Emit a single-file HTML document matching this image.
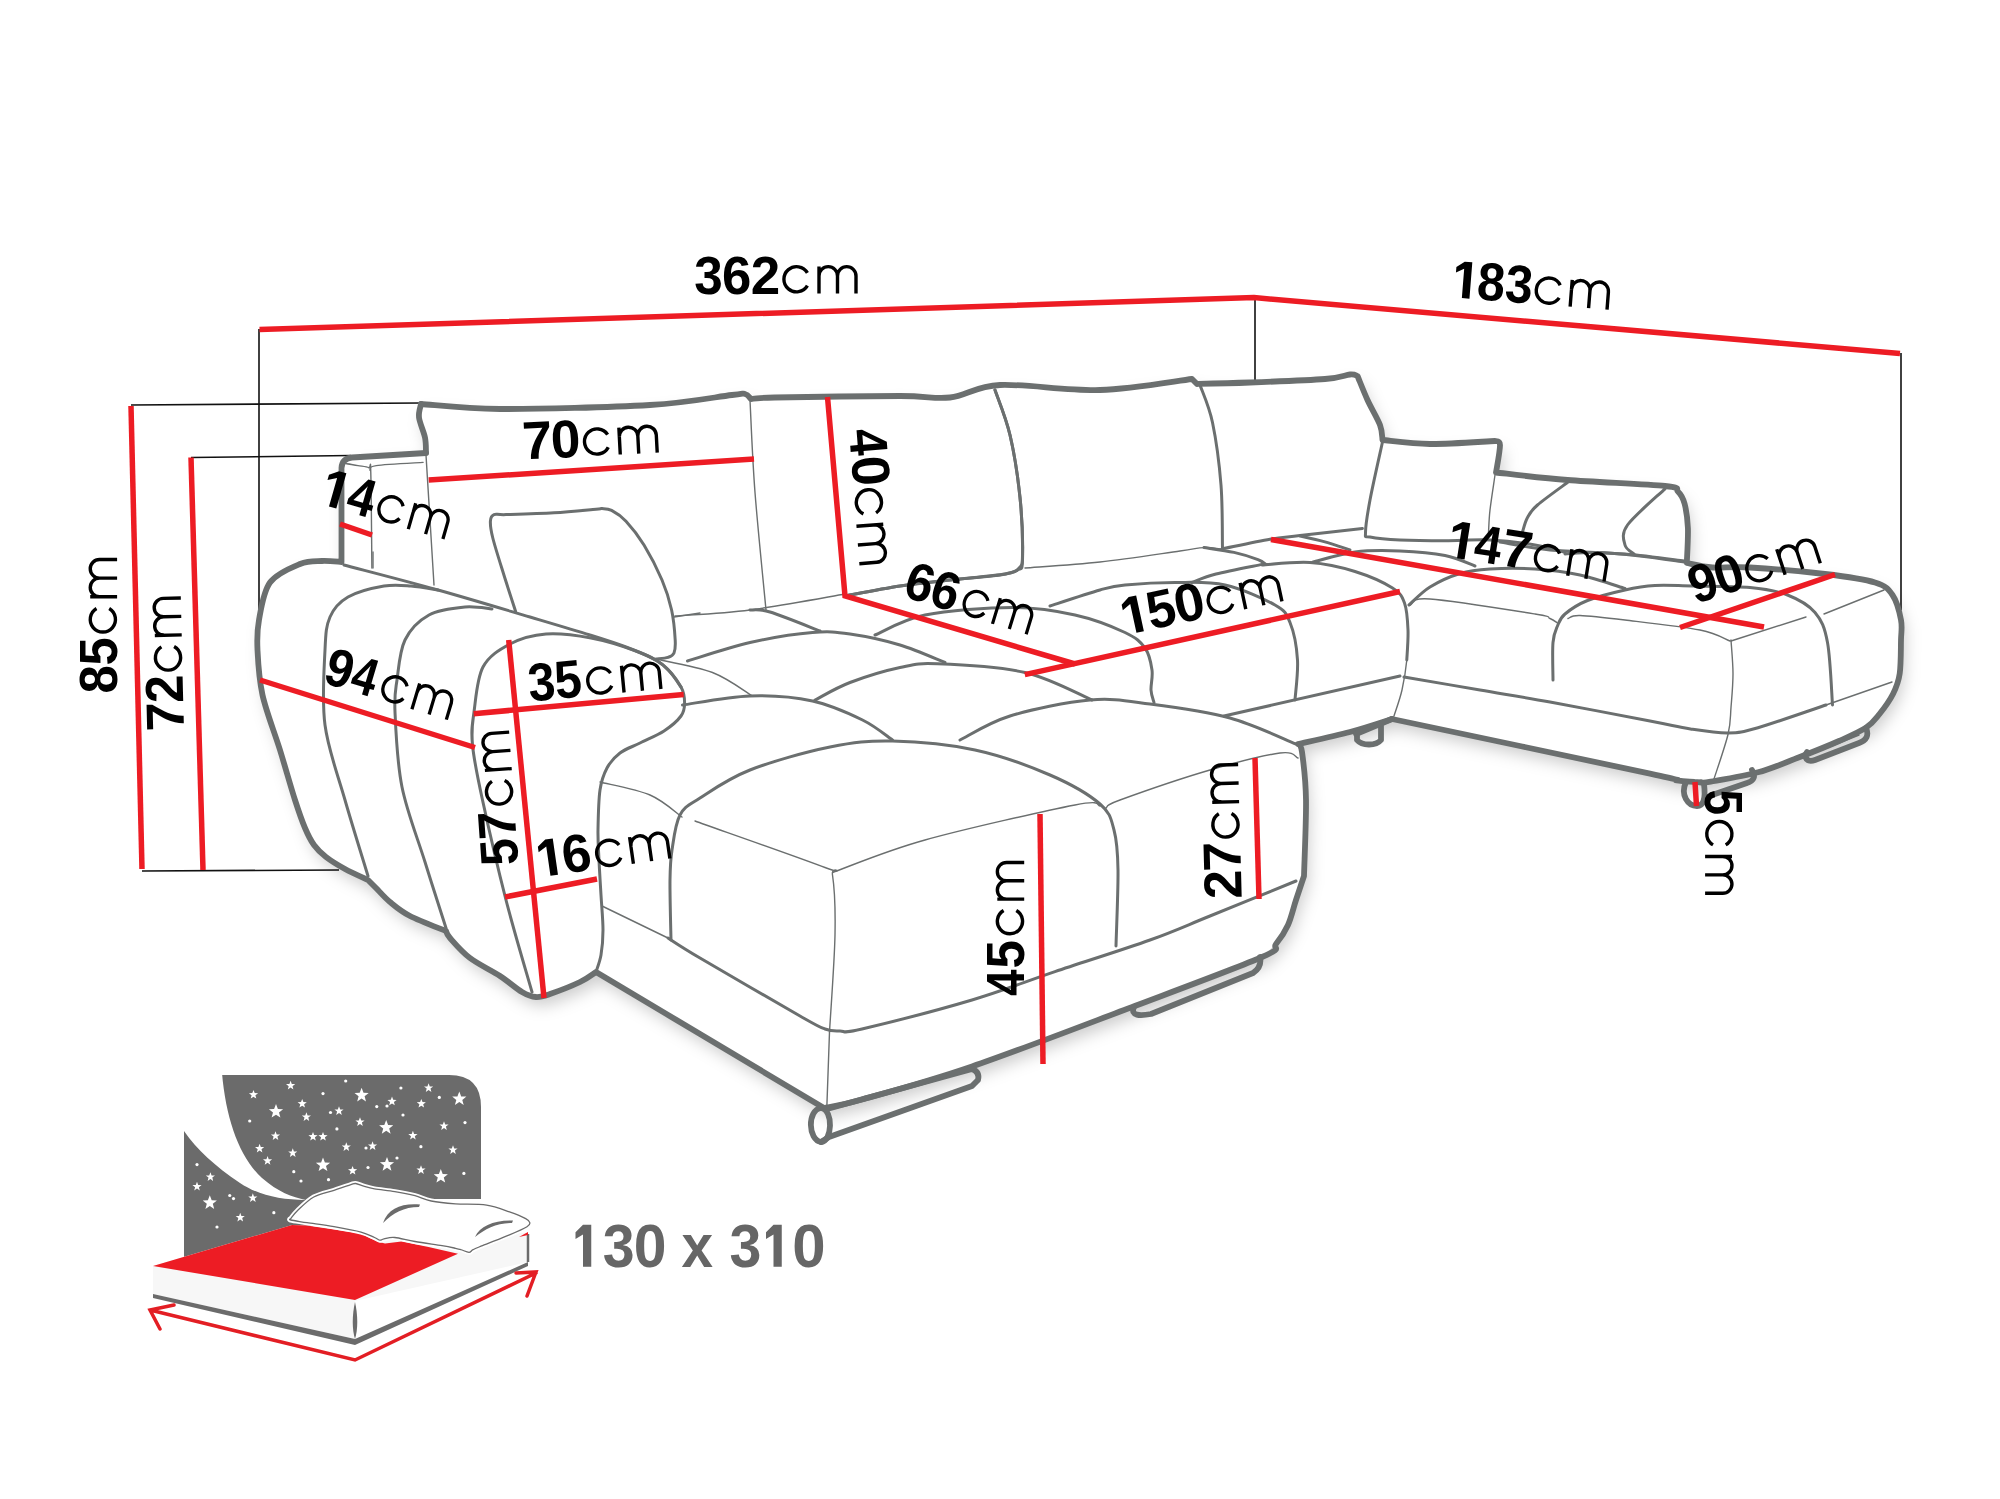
<!DOCTYPE html><html><head><meta charset="utf-8"><style>html,body{margin:0;padding:0;background:#fff;overflow:hidden}svg{display:block}</style></head><body><svg width="2000" height="1499" viewBox="0 0 2000 1499" font-family="Liberation Sans, sans-serif">
<rect width="2000" height="1499" fill="#fff"/>
<defs><path id="cm" fill="none" stroke="#000" stroke-width="3.4" d="M24.9,-20.6 A12.6,12.6 0 1 0 24.9,-7.9 M36.5,0 V-26.9 M36.5,-17.6 A9.25,9.25 0 0 1 55,-17.6 V0 M55,-17.6 A9.25,9.25 0 0 1 73.5,-17.6 V0"/></defs>
<defs><filter id="sh" x="-10%" y="-10%" width="120%" height="120%"><feGaussianBlur stdDeviation="8"/></filter></defs>
<path d="M421,404 L500,409 L650,405 L732,395 L745,394 L751,399 L775,397.5 L900,396 L950,397.5 L1000,385 L1100,390 L1192,379 L1197,384 L1250,382.5 L1325,379 L1350,374.5 L1357.5,376 L1367.5,400 L1380,425 L1382.5,440 L1430,444 L1495,441 L1500,445 L1496,472.5 L1567.5,480 L1665,486 L1678,491.7 L1684.6,503.8 L1687.9,528 L1686.8,563 L1712.5,567.5 L1750,567.5 L1825,574 L1875,582.5 L1892.5,595 L1901,620 L1901,640 L1899.7,673.7 L1893,694 L1879.5,714 L1866,727.7 L1839,741 L1798.5,757.5 L1758,772.3 L1710.7,781.7 L1694.5,781.75 L1677,780.4 L1650,773.6 L1392,719 L1350,732 L1298,744 L1302,752 L1306,800 L1304,876 L1296,900 L1288,925 L1276,944 L1262,957 L1134.7,1006 L972,1066.5 L862,1099.5 L824,1108 L700,1034 L596,972 L580,982 L550,994 L536,997 L522,992 L500,976 L470,958 L450,938 L446,931 L410,916 L390,902 L376,888 L368,880 L340,866 L320,852 L310,840 L280,750 L262.5,695 L257.5,650 L259,620 L270,582.5 L300,564 L322,562.5 L342,565 L341,467 L348,458 L426,452.5 L425,437.5 L419,417.5Z" fill="#000" fill-opacity="0.2" filter="url(#sh)" transform="translate(4,9)"/>
<path d="M421,404 L500,409 L650,405 L732,395 L745,394 L751,399 L775,397.5 L900,396 L950,397.5 L1000,385 L1100,390 L1192,379 L1197,384 L1250,382.5 L1325,379 L1350,374.5 L1357.5,376 L1367.5,400 L1380,425 L1382.5,440 L1430,444 L1495,441 L1500,445 L1496,472.5 L1567.5,480 L1665,486 L1678,491.7 L1684.6,503.8 L1687.9,528 L1686.8,563 L1712.5,567.5 L1750,567.5 L1825,574 L1875,582.5 L1892.5,595 L1901,620 L1901,640 L1899.7,673.7 L1893,694 L1879.5,714 L1866,727.7 L1839,741 L1798.5,757.5 L1758,772.3 L1710.7,781.7 L1694.5,781.75 L1677,780.4 L1650,773.6 L1392,719 L1350,732 L1298,744 L1302,752 L1306,800 L1304,876 L1296,900 L1288,925 L1276,944 L1262,957 L1134.7,1006 L972,1066.5 L862,1099.5 L824,1108 L700,1034 L596,972 L580,982 L550,994 L536,997 L522,992 L500,976 L470,958 L450,938 L446,931 L410,916 L390,902 L376,888 L368,880 L340,866 L320,852 L310,840 L280,750 L262.5,695 L257.5,650 L259,620 L270,582.5 L300,564 L322,562.5 L342,565 L341,467 L348,458 L426,452.5 L425,437.5 L419,417.5Z" fill="#fff"/>
<g fill="none" stroke="#111" stroke-width="1.6"><path d="M131,405 L420,403"/><path d="M191,457.5 L351,455.5"/><path d="M259,329 L259,617"/><path d="M142,871 L339,870"/><path d="M1255,297 L1255,380"/><path d="M1901,353 L1901,610"/></g>
<g fill="none" stroke="#6b6f6f" stroke-width="1.4" stroke-linecap="round" stroke-linejoin="round"><path d="M1819,751 L1859,735"/><path d="M1495.0,475.0C1494.2,480.8 1491.1,500.4 1490.0,510.0C1488.9,519.6 1488.8,528.8 1488.5,532.5"/><path d="M1025.0,568.0C1037.5,567.0 1074.2,564.8 1100.0,562.0C1125.8,559.2 1162.7,553.4 1180.0,551.0C1197.3,548.6 1197.0,547.9 1204.0,547.6C1211.0,547.3 1219.0,548.8 1222.0,549.0"/><path d="M1265.0,564.0L1313.0,562.0"/><path d="M1408.0,630.0C1407.8,635.0 1407.8,650.0 1406.8,660.0C1405.8,670.0 1404.1,680.7 1402.0,690.0C1399.9,699.3 1395.3,711.7 1394.0,716.0"/><path d="M1410.5,605.0C1413.8,604.0 1409.2,597.5 1430.0,599.0C1450.8,600.5 1515.0,610.8 1535.0,614.0C1555.0,617.2 1546.2,617.0 1550.0,618.5C1553.8,620.0 1556.2,622.2 1557.5,623.0"/><path d="M1568.0,618.5C1570.0,618.0 1570.5,615.2 1580.0,615.5C1589.5,615.8 1605.0,617.6 1625.0,620.0C1645.0,622.4 1682.5,626.5 1700.0,630.0C1717.5,633.5 1725.0,639.2 1730.0,641.0"/><path d="M1731.0,640.0C1731.3,645.6 1733.0,662.5 1733.0,673.7C1733.0,685.0 1731.8,697.4 1731.0,707.5C1730.2,717.6 1730.9,722.4 1728.0,734.5C1725.1,746.6 1715.9,772.8 1713.5,780.4"/><path d="M346.0,463.5C348.0,463.9 354.2,464.9 358.0,465.6C361.8,466.3 366.6,466.5 368.7,467.7C370.8,468.9 370.3,456.3 370.8,473.0C371.3,489.7 371.7,552.2 371.9,568.0"/><path d="M369.8,470.0C370.9,469.3 367.3,466.9 376.2,465.6C385.1,464.3 415.3,462.9 423.1,462.4"/><path d="M426.0,455.0L434.0,585.0"/><path d="M750.0,400.0C750.8,415.4 752.3,457.5 755.0,492.5C757.7,527.5 764.2,590.4 766.0,610.0"/><path d="M656.0,659.0C665.4,661.2 696.4,666.3 712.5,672.5C728.6,678.7 745.8,692.1 752.5,696.0"/><path d="M674.0,617.0L700.0,613.0"/><path d="M373.0,552.0L373.0,568.0"/><path d="M695.0,821.0C716.7,828.8 802.1,858.5 825.0,867.5C847.9,876.5 830.8,863.8 832.5,875.0C834.2,886.2 835.5,908.8 835.0,935.0C834.5,961.2 830.4,1015.8 829.5,1032.0"/><path d="M832.5,872.5C847.9,867.1 884.6,851.2 925.0,840.0C965.4,828.8 1045.8,810.7 1075.0,805.0C1104.2,799.3 1095.8,805.8 1100.0,806.0"/><path d="M1106.0,808.0C1108.3,806.7 1102.7,806.3 1120.0,800.0C1137.3,793.7 1183.3,777.8 1210.0,770.0C1236.7,762.2 1265.3,755.0 1280.0,753.0C1294.7,751.0 1295.0,757.2 1298.0,758.0"/><path d="M675.0,616.0C687.5,615.0 721.7,613.7 750.0,610.0C778.3,606.3 829.2,596.7 845.0,594.0"/><path d="M600.0,782.0C608.3,784.2 636.3,789.2 650.0,795.0C663.7,800.8 676.7,813.3 682.0,817.0"/><path d="M1731.0,641.0L1806.0,617.0"/><path d="M1824.0,614.0L1884.0,590.0"/><path d="M1826.0,705.0L1892.0,682.0"/><path d="M826.8,1108.0L829.5,1032.0"/><path d="M602.0,906.0L670.0,939.0"/></g>
<g fill="none" stroke="#6b6f6f" stroke-width="3" stroke-linecap="round" stroke-linejoin="round"><path d="M515.6,611.3C513.6,605.1 507.4,586.2 503.6,574.0C499.8,561.8 495.0,546.8 492.8,538.0C490.6,529.2 490.2,525.1 490.4,521.2C490.6,517.3 491.4,515.7 494.0,514.6C496.6,513.5 496.0,514.9 506.0,514.6C516.0,514.3 539.0,513.7 554.0,512.8C569.0,511.9 588.0,509.9 596.0,509.2C604.0,508.5 599.4,508.4 602.0,508.6C604.6,508.8 607.6,508.3 611.6,510.4C615.6,512.5 620.6,515.4 626.0,521.2C631.4,527.0 638.0,535.2 644.0,545.0C650.0,554.8 657.4,569.2 662.0,580.0C666.6,590.8 669.4,600.0 671.6,610.0C673.8,620.0 674.8,632.8 675.2,640.0C675.6,647.2 675.2,650.1 674.0,653.0C672.8,655.9 671.0,656.4 668.0,657.4C665.0,658.4 658.0,658.7 656.0,659.0"/><path d="M344.0,565.0C359.7,569.2 407.0,581.3 438.0,590.0C469.0,598.7 504.7,609.5 530.0,617.0C555.3,624.5 574.0,630.0 590.0,635.0C606.0,640.0 615.0,642.8 626.0,647.0C637.0,651.2 648.7,655.8 656.0,660.0C663.3,664.2 665.8,667.5 670.0,672.0C674.2,676.5 679.2,684.5 681.0,687.0"/><path d="M368.0,876.0C364.2,863.3 352.2,825.2 345.0,800.0C337.8,774.8 328.3,750.0 325.0,725.0C321.7,700.0 324.2,668.0 325.0,650.0C325.8,632.0 326.2,625.8 330.0,617.0C333.8,608.2 339.0,602.2 348.0,597.0C357.0,591.8 373.5,587.8 384.0,586.0C394.5,584.2 402.0,585.3 411.0,586.0C420.0,586.7 433.5,589.3 438.0,590.0"/><path d="M446.0,928.0C442.5,917.0 432.3,885.5 425.0,862.0C417.7,838.5 407.0,812.0 402.0,787.0C397.0,762.0 395.8,729.8 395.0,712.0C394.2,694.2 395.3,692.0 397.0,680.0C398.7,668.0 399.7,650.8 405.0,640.0C410.3,629.2 419.0,620.5 429.0,615.0C439.0,609.5 454.5,608.0 465.0,607.0C475.5,606.0 487.5,608.7 492.0,609.0"/><path d="M596.0,972.0C596.8,969.2 599.8,962.0 601.0,955.0C602.2,948.0 603.0,940.0 603.0,930.0C603.0,920.0 601.7,906.7 601.0,895.0C600.3,883.3 599.5,870.8 599.0,860.0C598.5,849.2 597.8,841.7 598.0,830.0C598.2,818.3 598.5,800.3 600.0,790.0C601.5,779.7 603.7,774.2 607.0,768.0C610.3,761.8 614.5,757.2 620.0,753.0C625.5,748.8 632.7,746.7 640.0,743.0C647.3,739.3 657.2,735.5 664.0,731.0C670.8,726.5 677.6,720.7 681.0,716.0C684.4,711.3 684.6,707.8 684.6,703.0C684.6,698.2 684.6,693.3 681.0,687.0C677.4,680.7 670.5,671.0 663.0,665.0C655.5,659.0 648.0,655.5 636.0,651.0C624.0,646.5 606.0,640.8 591.0,638.0C576.0,635.2 559.5,633.0 546.0,634.0C532.5,635.0 520.5,638.5 510.0,644.0C499.5,649.5 489.0,655.7 483.0,667.0C477.0,678.3 475.8,699.0 474.0,712.0C472.2,725.0 471.1,730.3 472.5,745.0C473.9,759.7 476.9,774.2 482.5,800.0C488.1,825.8 497.8,868.0 506.0,900.0C514.2,932.0 527.7,976.7 532.0,992.0"/><path d="M995.0,390.0C997.5,397.5 1005.8,417.1 1010.0,435.0C1014.2,452.9 1017.9,476.7 1020.0,497.5C1022.1,518.3 1022.9,547.9 1022.5,560.0C1022.1,572.1 1021.2,567.5 1017.5,570.0C1013.8,572.5 1011.2,573.3 1000.0,575.0C988.8,576.7 966.7,578.2 950.0,580.0C933.3,581.8 917.5,583.3 900.0,586.0C882.5,588.7 854.2,594.3 845.0,596.0"/><path d="M1200.0,385.0C1202.1,391.2 1209.0,405.8 1212.5,422.5C1216.0,439.2 1219.3,463.9 1221.0,485.0C1222.7,506.1 1222.2,538.3 1222.5,549.0"/><path d="M1382.5,442.0C1380.4,451.7 1372.8,484.9 1370.0,500.0C1367.2,515.1 1365.5,526.3 1365.5,532.5C1365.5,538.7 1364.2,535.8 1370.0,537.0C1375.8,538.2 1387.5,539.4 1400.0,540.0C1412.5,540.6 1430.0,540.8 1445.0,540.8C1460.0,540.8 1475.0,539.3 1490.0,540.0C1505.0,540.7 1522.5,542.9 1535.0,545.0C1547.5,547.1 1560.0,551.2 1565.0,552.5"/><path d="M1522.5,532.0C1523.3,529.6 1525.0,522.0 1527.5,517.5C1530.0,513.0 1530.8,510.8 1537.5,505.0C1544.2,499.2 1562.5,486.2 1567.5,482.5"/><path d="M1634.0,554.0C1632.5,552.5 1626.1,549.8 1625.0,545.0C1623.9,540.2 1620.8,534.4 1627.5,525.0C1634.2,515.6 1658.8,494.8 1665.0,488.8"/><path d="M1565.0,554.0C1570.0,553.8 1582.5,552.2 1595.0,552.5C1607.5,552.8 1625.2,554.4 1640.0,556.0C1654.8,557.6 1676.7,561.0 1684.0,562.0"/><path d="M1222.0,549.0C1230.0,547.4 1257.0,541.4 1270.0,539.2C1283.0,537.0 1284.6,537.4 1300.0,535.6C1315.4,533.8 1352.0,529.6 1362.4,528.4"/><path d="M1204.0,547.6C1209.0,548.4 1225.0,550.4 1234.0,552.4C1243.0,554.4 1252.7,557.6 1258.0,559.6C1263.3,561.6 1264.7,563.6 1266.0,564.4"/><path d="M1300.0,536.0C1304.0,536.9 1315.7,539.3 1324.0,541.6C1332.3,543.9 1345.7,548.6 1350.0,550.0"/><path d="M1313.0,562.0C1320.0,560.3 1340.5,553.8 1355.0,552.0C1369.5,550.2 1385.0,550.4 1400.0,551.0C1415.0,551.6 1432.5,553.0 1445.0,555.5C1457.5,558.0 1470.0,564.2 1475.0,566.0"/><path d="M1262.0,565.0C1270.0,564.6 1294.5,561.4 1310.0,562.5C1325.5,563.6 1341.2,567.2 1355.0,571.5C1368.8,575.8 1384.2,582.8 1392.5,588.0C1400.8,593.2 1401.9,596.0 1404.5,603.0C1407.1,610.0 1407.6,620.5 1408.0,630.0C1408.4,639.5 1407.0,655.0 1406.8,660.0"/><path d="M1409.0,605.0C1412.5,602.0 1421.5,592.2 1430.0,587.0C1438.5,581.8 1450.0,576.5 1460.0,573.5C1470.0,570.5 1477.5,569.8 1490.0,569.0C1502.5,568.2 1520.0,568.0 1535.0,569.0C1550.0,570.0 1565.0,571.8 1580.0,575.0C1595.0,578.2 1617.5,586.2 1625.0,588.5"/><path d="M1553.0,680.0C1553.0,673.8 1552.2,651.5 1553.0,642.5C1553.8,633.5 1555.5,630.8 1557.5,626.0C1559.5,621.2 1560.0,618.2 1565.0,614.0C1570.0,609.8 1577.5,604.5 1587.5,600.5C1597.5,596.5 1613.8,592.5 1625.0,590.0C1636.2,587.5 1643.8,586.2 1655.0,585.5C1666.2,584.8 1676.7,585.7 1692.5,586.0C1708.3,586.3 1734.2,586.0 1750.0,587.5C1765.8,589.0 1776.7,590.8 1787.5,595.0C1798.3,599.2 1808.3,604.6 1815.0,612.5C1821.7,620.4 1824.6,627.1 1827.5,642.5C1830.4,657.9 1831.7,694.6 1832.5,705.0"/><path d="M995.0,390.0C997.5,397.5 1005.8,417.1 1010.0,435.0C1014.2,452.9 1017.9,477.5 1020.0,497.5C1022.1,517.5 1022.7,543.2 1022.5,555.0C1022.3,566.8 1021.9,564.8 1019.0,568.0C1016.1,571.2 1016.5,572.0 1005.0,574.0C993.5,576.0 967.5,578.0 950.0,580.0C932.5,582.0 917.5,583.3 900.0,586.0C882.5,588.7 854.2,594.3 845.0,596.0"/><path d="M687.5,661.0C697.9,657.9 729.2,647.2 750.0,642.5C770.8,637.8 795.8,633.9 812.5,632.5C829.2,631.1 835.4,631.9 850.0,634.0C864.6,636.1 884.2,640.2 900.0,645.0C915.8,649.8 937.5,659.6 945.0,662.5"/><path d="M815.0,700.0C820.8,697.1 835.8,687.9 850.0,682.5C864.2,677.1 885.4,670.6 900.0,667.5C914.6,664.4 916.7,662.9 937.5,663.8C958.3,664.6 999.2,666.5 1025.0,672.5C1050.8,678.5 1080.8,695.4 1092.0,700.0"/><path d="M682.5,705.0C693.8,703.5 728.3,696.7 750.0,696.0C771.7,695.3 793.8,697.0 812.5,701.0C831.2,705.0 849.2,713.5 862.5,720.0C875.8,726.5 887.5,736.7 892.5,740.0"/><path d="M960.0,740.0C968.3,736.0 988.3,722.7 1010.0,716.0C1031.7,709.3 1066.7,702.0 1090.0,700.0C1113.3,698.0 1126.7,701.0 1150.0,704.0C1173.3,707.0 1205.7,711.3 1230.0,718.0C1254.3,724.7 1285.0,739.7 1296.0,744.0"/><path d="M671.0,940.0C670.8,930.0 669.8,895.0 670.0,880.0C670.2,865.0 670.3,860.8 672.0,850.0C673.7,839.2 675.3,823.7 680.0,815.0C684.7,806.3 688.3,805.5 700.0,798.0C711.7,790.5 728.3,778.5 750.0,770.0C771.7,761.5 806.2,751.8 830.0,747.0C853.8,742.2 868.3,740.5 892.5,741.0C916.7,741.5 948.8,744.3 975.0,750.0C1001.2,755.7 1029.2,766.0 1050.0,775.0C1070.8,784.0 1089.3,794.8 1100.0,804.0C1110.7,813.2 1111.0,819.0 1114.0,830.0C1117.0,841.0 1117.7,850.7 1118.0,870.0C1118.3,889.3 1116.3,933.3 1116.0,946.0"/><path d="M1050.0,606.0C1058.3,603.3 1087.5,593.5 1100.0,590.0C1112.5,586.5 1112.5,586.2 1125.0,585.0C1137.5,583.8 1158.3,582.5 1175.0,582.5C1191.7,582.5 1208.3,581.2 1225.0,585.0C1241.7,588.8 1264.2,598.8 1275.0,605.0C1285.8,611.2 1286.2,613.3 1290.0,622.5C1293.8,631.7 1296.7,647.1 1297.5,660.0C1298.3,672.9 1295.4,693.3 1295.0,700.0"/><path d="M1192.0,582.4C1196.0,581.0 1204.3,577.0 1216.0,574.0C1227.7,571.0 1254.3,566.0 1262.0,564.4"/><path d="M875.0,635.0C883.3,631.7 902.1,619.6 925.0,615.0C947.9,610.4 987.5,607.5 1012.5,607.5C1037.5,607.5 1056.2,610.8 1075.0,615.0C1093.8,619.2 1113.3,627.0 1125.0,632.5C1136.7,638.0 1140.5,641.8 1145.0,648.0C1149.5,654.2 1151.0,663.0 1152.0,670.0C1153.0,677.0 1150.7,684.6 1151.0,690.0C1151.3,695.4 1153.5,700.4 1154.0,702.5"/><path d="M1224.0,716.0L1400.0,676.0"/><path d="M668.0,938.0C673.3,941.3 678.0,945.0 700.0,958.0C722.0,971.0 779.2,1004.2 800.0,1016.0C820.8,1027.8 818.3,1026.5 825.0,1029.0C831.7,1031.5 833.8,1031.0 840.0,1031.0C846.2,1031.0 840.0,1034.2 862.0,1029.0C884.0,1023.8 939.8,1009.6 972.0,1000.0C1004.2,990.4 1025.3,981.6 1055.0,971.6C1084.7,961.6 1124.2,949.3 1150.0,940.0C1175.8,930.7 1185.7,925.8 1210.0,916.0C1234.3,906.2 1281.7,886.8 1296.0,881.0"/><path d="M1404.0,677.0C1416.7,679.2 1455.7,685.8 1480.0,690.0C1504.3,694.2 1521.7,696.8 1550.0,702.0C1578.3,707.2 1626.6,716.5 1650.0,721.0C1673.4,725.5 1677.5,727.0 1690.5,729.0C1703.5,731.0 1717.0,733.2 1728.3,733.0C1739.5,732.8 1741.7,732.4 1758.0,727.7C1774.3,723.0 1814.7,708.8 1826.0,705.0"/><path d="M1500.0,542.0C1508.3,543.3 1529.2,548.0 1550.0,550.0C1570.8,552.0 1602.7,552.2 1625.0,554.0C1647.3,555.8 1674.2,559.8 1684.0,561.0"/><path d="M750.0,610.0C753.3,610.3 758.3,608.5 770.0,612.0C781.7,615.5 811.7,627.8 820.0,631.0"/></g>
<g fill="none" stroke="#6b6f6f" stroke-width="5.8" stroke-linecap="round" stroke-linejoin="round"><path d="M426.0,452.5C425.8,450.0 426.2,443.3 425.0,437.5C423.8,431.7 419.7,423.1 419.0,417.5C418.3,411.9 420.7,406.2 421.0,404.0"/><path d="M421.0,404.0C434.2,404.8 461.8,408.8 500.0,409.0C538.2,409.2 611.3,407.3 650.0,405.0C688.7,402.7 716.2,396.8 732.0,395.0C747.8,393.2 741.8,393.3 745.0,394.0C748.2,394.7 750.0,398.2 751.0,399.0C755.0,398.8 750.2,398.0 775.0,397.5C799.8,397.0 870.8,396.0 900.0,396.0C929.2,396.0 933.3,399.3 950.0,397.5C966.7,395.7 975.0,386.2 1000.0,385.0C1025.0,383.8 1068.0,391.0 1100.0,390.0C1132.0,389.0 1176.7,380.8 1192.0,379.0L1197.0,384.0C1205.8,383.8 1228.7,383.3 1250.0,382.5C1271.3,381.7 1308.3,380.3 1325.0,379.0C1341.7,377.7 1344.6,375.0 1350.0,374.5C1355.4,374.0 1356.2,375.8 1357.5,376.0C1359.2,380.0 1363.8,391.8 1367.5,400.0C1371.2,408.2 1377.5,418.3 1380.0,425.0C1382.5,431.7 1382.1,437.5 1382.5,440.0C1390.4,440.7 1411.2,443.8 1430.0,444.0C1448.8,444.2 1484.2,441.5 1495.0,441.0C1495.8,441.7 1499.8,439.8 1500.0,445.0C1500.2,450.2 1496.7,467.9 1496.0,472.5C1507.9,473.8 1539.3,477.8 1567.5,480.0C1595.7,482.2 1646.6,484.1 1665.0,486.0C1683.4,487.9 1674.7,488.7 1678.0,491.7C1681.3,494.7 1682.9,497.8 1684.6,503.8C1686.2,509.9 1687.5,518.1 1687.9,528.0C1688.3,537.9 1687.0,557.2 1686.8,563.0C1691.1,563.8 1702.0,566.8 1712.5,567.5C1723.0,568.2 1731.2,566.4 1750.0,567.5C1768.8,568.6 1804.2,571.5 1825.0,574.0C1845.8,576.5 1863.8,579.0 1875.0,582.5C1886.2,586.0 1888.2,588.8 1892.5,595.0C1896.8,601.2 1899.6,612.5 1901.0,620.0C1902.4,627.5 1901.2,631.0 1901.0,640.0C1900.8,649.0 1901.0,664.7 1899.7,673.7C1898.4,682.7 1896.4,687.3 1893.0,694.0C1889.6,700.7 1884.0,708.4 1879.5,714.0C1875.0,719.6 1872.8,723.2 1866.0,727.7C1859.2,732.2 1850.2,736.0 1839.0,741.0C1827.8,746.0 1812.0,752.3 1798.5,757.5C1785.0,762.7 1772.6,768.3 1758.0,772.3C1743.4,776.3 1720.2,780.0 1710.7,781.7C1701.2,783.4 1702.6,782.3 1701.0,782.4"/><path d="M426,453 L352,457.5 Q342,458.5 341.5,468 L341.5,562 M341.5,562.0C338.2,561.8 328.9,560.7 322.0,561.0C315.1,561.3 308.7,560.4 300.0,564.0C291.3,567.6 276.8,573.2 270.0,582.5C263.2,591.8 261.1,608.8 259.0,620.0C256.9,631.2 256.9,637.5 257.5,650.0C258.1,662.5 258.8,678.3 262.5,695.0C266.2,711.7 274.6,732.5 280.0,750.0C285.4,767.5 290.8,787.0 295.0,800.0C299.2,813.0 301.8,820.5 305.0,828.0C308.2,835.5 310.5,840.2 314.0,845.0C317.5,849.8 320.8,853.0 326.0,857.0C331.2,861.0 338.0,865.2 345.0,869.0C352.0,872.8 364.2,878.2 368.0,880.0C369.3,881.3 372.3,884.3 376.0,888.0C379.7,891.7 384.3,897.3 390.0,902.0C395.7,906.7 400.7,911.2 410.0,916.0C419.3,920.8 440.0,928.5 446.0,931.0C446.7,932.2 446.0,933.5 450.0,938.0C454.0,942.5 461.7,951.7 470.0,958.0C478.3,964.3 491.3,970.3 500.0,976.0C508.7,981.7 516.0,988.5 522.0,992.0C528.0,995.5 531.3,996.7 536.0,997.0C540.7,997.3 542.7,996.5 550.0,994.0C557.3,991.5 572.3,985.7 580.0,982.0C587.7,978.3 593.3,973.7 596.0,972.0C613.3,982.3 662.0,1011.3 700.0,1034.0C738.0,1056.7 803.3,1095.7 824.0,1108.0"/><path d="M824.0,1108.0C830.3,1106.6 837.3,1106.4 862.0,1099.5C886.7,1092.6 926.5,1082.1 972.0,1066.5C1017.5,1050.9 1086.4,1024.2 1134.7,1006.0C1183.0,987.8 1238.5,967.3 1262.0,957.0C1285.5,946.7 1271.7,949.3 1276.0,944.0C1280.3,938.7 1284.7,932.3 1288.0,925.0C1291.3,917.7 1293.3,908.2 1296.0,900.0C1298.7,891.8 1302.7,880.0 1304.0,876.0C1304.3,863.3 1306.3,820.7 1306.0,800.0C1305.7,779.3 1303.3,761.3 1302.0,752.0C1300.7,742.7 1298.7,745.3 1298.0,744.0C1306.7,742.0 1334.3,736.2 1350.0,732.0C1365.7,727.8 1385.0,721.2 1392.0,719.0"/><path d="M1392.0,719.0C1435.0,728.1 1602.5,763.4 1650.0,773.6C1697.5,783.8 1669.6,779.0 1677.0,780.4C1684.4,781.8 1690.5,781.4 1694.5,781.8C1698.5,782.1 1699.9,782.3 1701.0,782.4"/><path d="M827,1109 L972,1069 Q980,1072 978,1080 L972,1086 L829,1137 L821,1142"/><path d="M821,1108 C807,1110 808,1140 821,1142 C832,1142 834,1110 821,1108 Z"/><path d="M1134,1007 C1130,1016 1140,1016 1151,1014 L1253,973 C1261,968 1261,962 1260,957"/><path d="M1686,782 C1680,795 1688,806 1697,806 C1703,806 1706,800 1704,784"/><path d="M1752,770 C1756,776 1754,781 1747,783 L1712,795"/><path d="M1866,728 C1869,735 1867,740 1859,743 L1815,760 C1807,763 1803,757 1807,752"/><path d="M1357,733 L1357,740 C1362,746 1376,746 1381,740 L1381,726"/><path d="M1356,734 L1392,719"/></g>
<g fill="none" stroke="#ed1c24" stroke-width="5.5" stroke-linecap="butt" stroke-linejoin="miter"><path d="M259.5,329.5 L1254,297.6 L1900,353.5"/><path d="M131,406 L142,869"/><path d="M191,457.5 L203,870"/><path d="M340,524 L372,535"/><path d="M428.7,480 L754,459"/><path d="M827.5,397 L845,596 L1075,664"/><path d="M1024.8,674.6 L1400,591.5"/><path d="M1271,539.5 L1764,627"/><path d="M1680,627.5 L1835,574.5"/><path d="M260,680 L475,747.5"/><path d="M473.7,713.7 L683.7,694.5"/><path d="M508.7,640 L544,998"/><path d="M505,897 L597,879"/><path d="M1040,814 L1043,1064"/><path d="M1255,758 L1259,899"/><path d="M1695,782 L1696.5,806"/></g>

<g>
 <path fill="#6b6b6b" d="M222,1075 L449,1075 Q481,1075 481,1107 L481,1199 L340,1199 L300,1235 L184,1262 L184,1131 Z"/>
 <path fill="#fff" d="M222,1073 C226,1120 240,1158 262,1178 C278,1192 292,1197 306,1200 C280,1200 258,1195 240,1183 C215,1166 197,1150 184,1131 L184,1073 Z"/>
 <path fill="#fff" d="M180,1073 L222,1073 L222,1075 L184,1131 Z"/>
 <g fill="#fff">
  <path d="M361.6,1087.8 L363.5,1092.8 L368.7,1093.0 L364.6,1096.3 L366.0,1101.4 L361.6,1098.5 L357.2,1101.4 L358.6,1096.3 L354.5,1093.0 L359.7,1092.8ZM459.3,1091.4 L461.2,1096.4 L466.4,1096.6 L462.3,1099.9 L463.7,1105.0 L459.3,1102.1 L454.9,1105.0 L456.3,1099.9 L452.2,1096.6 L457.4,1096.4ZM276.0,1104.0 L277.9,1109.0 L283.1,1109.2 L279.0,1112.5 L280.4,1117.6 L276.0,1114.7 L271.6,1117.6 L273.0,1112.5 L268.9,1109.2 L274.1,1109.0ZM386.2,1120.1 L388.1,1125.1 L393.3,1125.3 L389.2,1128.6 L390.6,1133.7 L386.2,1130.8 L381.8,1133.7 L383.2,1128.6 L379.1,1125.3 L384.3,1125.1ZM323.0,1157.5 L324.9,1162.5 L330.1,1162.7 L326.0,1166.0 L327.4,1171.1 L323.0,1168.2 L318.6,1171.1 L320.0,1166.0 L315.9,1162.7 L321.1,1162.5ZM387.0,1157.1 L388.9,1162.1 L394.1,1162.3 L390.0,1165.6 L391.4,1170.7 L387.0,1167.8 L382.6,1170.7 L384.0,1165.6 L379.9,1162.3 L385.1,1162.1ZM440.8,1169.0 L442.7,1174.0 L447.9,1174.2 L443.8,1177.5 L445.2,1182.6 L440.8,1179.7 L436.4,1182.6 L437.8,1177.5 L433.7,1174.2 L438.9,1174.0ZM209.8,1195.3 L211.7,1200.3 L216.9,1200.5 L212.8,1203.8 L214.2,1208.9 L209.8,1206.0 L205.4,1208.9 L206.8,1203.8 L202.7,1200.5 L207.9,1200.3ZM290.6,1080.8 L291.8,1084.0 L295.2,1084.1 L292.5,1086.2 L293.4,1089.5 L290.6,1087.6 L287.8,1089.5 L288.7,1086.2 L286.0,1084.1 L289.4,1084.0ZM253.5,1089.9 L254.7,1093.1 L258.1,1093.2 L255.4,1095.3 L256.3,1098.6 L253.5,1096.7 L250.7,1098.6 L251.6,1095.3 L248.9,1093.2 L252.3,1093.1ZM428.6,1083.2 L429.8,1086.4 L433.2,1086.5 L430.5,1088.6 L431.4,1091.9 L428.6,1090.0 L425.8,1091.9 L426.7,1088.6 L424.0,1086.5 L427.4,1086.4ZM302.2,1098.9 L303.4,1102.1 L306.8,1102.2 L304.1,1104.3 L305.0,1107.6 L302.2,1105.7 L299.4,1107.6 L300.3,1104.3 L297.6,1102.2 L301.0,1102.1ZM392.0,1096.6 L393.2,1099.8 L396.6,1099.9 L393.9,1102.0 L394.8,1105.3 L392.0,1103.4 L389.2,1105.3 L390.1,1102.0 L387.4,1099.9 L390.8,1099.8ZM421.3,1098.9 L422.5,1102.1 L425.9,1102.2 L423.2,1104.3 L424.1,1107.6 L421.3,1105.7 L418.5,1107.6 L419.4,1104.3 L416.7,1102.2 L420.1,1102.1ZM339.0,1106.2 L340.2,1109.4 L343.6,1109.5 L340.9,1111.6 L341.8,1114.9 L339.0,1113.0 L336.2,1114.9 L337.1,1111.6 L334.4,1109.5 L337.8,1109.4ZM306.4,1112.2 L307.6,1115.4 L311.0,1115.5 L308.3,1117.6 L309.2,1120.9 L306.4,1119.0 L303.6,1120.9 L304.5,1117.6 L301.8,1115.5 L305.2,1115.4ZM360.0,1117.2 L361.2,1120.4 L364.6,1120.5 L361.9,1122.6 L362.8,1125.9 L360.0,1124.0 L357.2,1125.9 L358.1,1122.6 L355.4,1120.5 L358.8,1120.4ZM444.0,1121.2 L445.2,1124.4 L448.6,1124.5 L445.9,1126.6 L446.8,1129.9 L444.0,1128.0 L441.2,1129.9 L442.1,1126.6 L439.4,1124.5 L442.8,1124.4ZM275.5,1131.2 L276.7,1134.4 L280.1,1134.5 L277.4,1136.6 L278.3,1139.9 L275.5,1138.0 L272.7,1139.9 L273.6,1136.6 L270.9,1134.5 L274.3,1134.4ZM313.0,1131.9 L314.2,1135.1 L317.6,1135.2 L314.9,1137.3 L315.8,1140.6 L313.0,1138.7 L310.2,1140.6 L311.1,1137.3 L308.4,1135.2 L311.8,1135.1ZM323.0,1131.9 L324.2,1135.1 L327.6,1135.2 L324.9,1137.3 L325.8,1140.6 L323.0,1138.7 L320.2,1140.6 L321.1,1137.3 L318.4,1135.2 L321.8,1135.1ZM412.9,1130.8 L414.1,1134.0 L417.5,1134.1 L414.8,1136.2 L415.7,1139.5 L412.9,1137.6 L410.1,1139.5 L411.0,1136.2 L408.3,1134.1 L411.7,1134.0ZM259.6,1143.8 L260.8,1147.0 L264.2,1147.1 L261.5,1149.2 L262.4,1152.5 L259.6,1150.6 L256.8,1152.5 L257.7,1149.2 L255.0,1147.1 L258.4,1147.0ZM292.8,1148.2 L293.9,1151.4 L297.3,1151.5 L294.7,1153.6 L295.6,1156.9 L292.8,1155.0 L289.9,1156.9 L290.8,1153.6 L288.2,1151.5 L291.6,1151.4ZM346.3,1142.2 L347.5,1145.4 L350.9,1145.5 L348.2,1147.6 L349.1,1150.9 L346.3,1149.0 L343.5,1150.9 L344.4,1147.6 L341.7,1145.5 L345.1,1145.4ZM372.6,1141.2 L373.7,1144.4 L377.1,1144.5 L374.5,1146.6 L375.4,1149.9 L372.6,1148.0 L369.7,1149.9 L370.6,1146.6 L368.0,1144.5 L371.4,1144.4ZM453.0,1145.2 L454.2,1148.4 L457.6,1148.5 L454.9,1150.6 L455.8,1153.9 L453.0,1152.0 L450.2,1153.9 L451.1,1150.6 L448.4,1148.5 L451.8,1148.4ZM267.6,1156.0 L268.7,1159.2 L272.1,1159.3 L269.5,1161.4 L270.4,1164.7 L267.6,1162.8 L264.7,1164.7 L265.6,1161.4 L263.0,1159.3 L266.4,1159.2ZM352.6,1165.9 L353.8,1169.1 L357.2,1169.2 L354.5,1171.3 L355.4,1174.6 L352.6,1172.7 L349.8,1174.6 L350.7,1171.3 L348.0,1169.2 L351.4,1169.1ZM421.0,1165.2 L422.2,1168.4 L425.6,1168.5 L422.9,1170.6 L423.8,1173.9 L421.0,1172.0 L418.2,1173.9 L419.1,1170.6 L416.4,1168.5 L419.8,1168.4ZM210.4,1172.2 L211.6,1175.4 L215.0,1175.5 L212.3,1177.6 L213.2,1180.9 L210.4,1179.0 L207.6,1180.9 L208.5,1177.6 L205.8,1175.5 L209.2,1175.4ZM197.0,1181.8 L198.2,1185.0 L201.6,1185.1 L198.9,1187.2 L199.8,1190.5 L197.0,1188.6 L194.2,1190.5 L195.1,1187.2 L192.4,1185.1 L195.8,1185.0ZM252.8,1193.2 L254.0,1196.4 L257.4,1196.5 L254.8,1198.6 L255.7,1201.9 L252.8,1200.0 L250.0,1201.9 L250.9,1198.6 L248.3,1196.5 L251.7,1196.4ZM240.2,1212.7 L241.4,1215.9 L244.8,1216.0 L242.2,1218.1 L243.1,1221.4 L240.2,1219.5 L237.4,1221.4 L238.3,1218.1 L235.7,1216.0 L239.1,1215.9Z"/>
  <circle cx="345.7" cy="1081" r="1.6"/><circle cx="323" cy="1093.6" r="1.6"/><circle cx="400.9" cy="1088" r="1.6"/><circle cx="439.3" cy="1097.4" r="1.6"/><circle cx="376.75" cy="1106.6" r="1.6"/><circle cx="387" cy="1106" r="1.6"/><circle cx="330.5" cy="1112.5" r="1.6"/><circle cx="403" cy="1115" r="1.6"/><circle cx="249.7" cy="1121" r="1.6"/><circle cx="465" cy="1122.6" r="1.6"/><circle cx="336.9" cy="1128.9" r="1.6"/><circle cx="366" cy="1148" r="1.6"/><circle cx="420.9" cy="1146.7" r="1.6"/><circle cx="397" cy="1158" r="1.6"/><circle cx="293.8" cy="1171.7" r="1.6"/><circle cx="368" cy="1167.5" r="1.6"/><circle cx="463.9" cy="1173.4" r="1.6"/><circle cx="301" cy="1181" r="1.6"/><circle cx="328.5" cy="1179.7" r="1.6"/><circle cx="197" cy="1164.6" r="1.6"/><circle cx="229.75" cy="1195.5" r="1.6"/><circle cx="233.5" cy="1198.6" r="1.6"/><circle cx="273.85" cy="1212.7" r="1.6"/><circle cx="217" cy="1227" r="1.6"/>
 </g>
 <!-- mattress -->
 <path fill="#f7f7f7" d="M153,1266 L292,1225 L528,1233 L528,1262 L355,1301 L355,1339 L153,1294 Z"/>
 <path fill="#ed1c24" d="M153,1266 L292,1225 L307,1225.5 L361,1233.5 L377,1241.5 L385,1243.6 L401.5,1241.5 L428.5,1247 L458,1253.7 L355,1300 Z"/>
 <path fill="#6b6b6b" d="M153,1294 L355,1339 L528,1262 L528,1266 L355,1345 L153,1298 Z"/>
 <path fill="#6b6b6b" d="M355,1302 C352,1315 352,1330 355,1339 C358,1330 358,1315 355,1302 Z"/>
 <path fill="none" stroke="#6b6b6b" stroke-width="2.5" d="M528,1234 L528,1262"/>
 <path fill="#ed1c24" d="M519,1237 L528,1232 L528,1235 Z"/>
 <!-- pillows -->
 <path fill="#fff" stroke="#fff" stroke-width="5" stroke-linejoin="round" d="M290.8,1218.6C291.9,1217.2 293.8,1214.1 297.6,1210.5C301.4,1206.9 307.7,1200.4 313.8,1197.0C319.9,1193.6 327.9,1192.3 334.0,1190.3C340.1,1188.3 346.6,1186.0 350.2,1184.9C353.8,1183.8 353.4,1183.3 355.6,1183.5C357.9,1183.7 360.6,1185.3 363.7,1186.2C366.8,1187.1 369.3,1188.0 374.5,1188.9C379.7,1189.8 388.1,1190.5 394.8,1191.6C401.6,1192.7 408.9,1194.1 415.0,1195.7C421.1,1197.3 424.4,1199.7 431.2,1201.0C437.9,1202.3 446.3,1203.1 455.5,1203.8C464.7,1204.4 477.6,1203.7 486.6,1205.1C495.6,1206.5 503.0,1209.7 509.5,1211.9C516.0,1214.2 522.3,1216.8 525.7,1218.6C529.1,1220.4 529.5,1221.3 529.8,1222.7C530.0,1224.0 530.4,1224.7 527.0,1226.7C523.6,1228.7 516.9,1231.7 509.5,1234.8C502.1,1237.9 488.6,1243.1 482.5,1245.6C476.4,1248.1 475.2,1248.5 473.0,1249.7C470.8,1250.8 471.0,1252.3 469.0,1252.3C467.0,1252.3 463.1,1250.3 460.9,1249.7C458.6,1249.0 458.6,1249.0 455.5,1248.3C452.4,1247.6 448.8,1246.7 442.0,1245.6C435.2,1244.5 422.9,1242.9 415.0,1241.5C407.1,1240.2 399.9,1238.0 394.8,1237.5C389.6,1237.0 386.5,1238.4 384.0,1238.8C381.5,1239.3 381.6,1240.4 380.0,1240.2C378.4,1240.0 377.7,1238.8 374.5,1237.5C371.3,1236.2 367.8,1233.9 361.0,1232.1C354.2,1230.3 343.0,1228.3 334.0,1226.7C325.0,1225.1 314.2,1223.8 307.0,1222.7C299.8,1221.5 293.5,1220.7 290.8,1220.0C288.1,1219.3 290.8,1218.8 290.8,1218.6Z"/>
 <path fill="#fff" stroke="#6b6b6b" stroke-width="1.3" d="M290.8,1218.6C291.9,1217.2 293.8,1214.1 297.6,1210.5C301.4,1206.9 307.7,1200.4 313.8,1197.0C319.9,1193.6 327.9,1192.3 334.0,1190.3C340.1,1188.3 346.6,1186.0 350.2,1184.9C353.8,1183.8 353.4,1183.3 355.6,1183.5C357.9,1183.7 360.6,1185.3 363.7,1186.2C366.8,1187.1 369.3,1188.0 374.5,1188.9C379.7,1189.8 388.1,1190.5 394.8,1191.6C401.6,1192.7 408.9,1194.1 415.0,1195.7C421.1,1197.3 424.4,1199.7 431.2,1201.0C437.9,1202.3 446.3,1203.1 455.5,1203.8C464.7,1204.4 477.6,1203.7 486.6,1205.1C495.6,1206.5 503.0,1209.7 509.5,1211.9C516.0,1214.2 522.3,1216.8 525.7,1218.6C529.1,1220.4 529.5,1221.3 529.8,1222.7C530.0,1224.0 530.4,1224.7 527.0,1226.7C523.6,1228.7 516.9,1231.7 509.5,1234.8C502.1,1237.9 488.6,1243.1 482.5,1245.6C476.4,1248.1 475.2,1248.5 473.0,1249.7C470.8,1250.8 471.0,1252.3 469.0,1252.3C467.0,1252.3 463.1,1250.3 460.9,1249.7C458.6,1249.0 458.6,1249.0 455.5,1248.3C452.4,1247.6 448.8,1246.7 442.0,1245.6C435.2,1244.5 422.9,1242.9 415.0,1241.5C407.1,1240.2 399.9,1238.0 394.8,1237.5C389.6,1237.0 386.5,1238.4 384.0,1238.8C381.5,1239.3 381.6,1240.4 380.0,1240.2C378.4,1240.0 377.7,1238.8 374.5,1237.5C371.3,1236.2 367.8,1233.9 361.0,1232.1C354.2,1230.3 343.0,1228.3 334.0,1226.7C325.0,1225.1 314.2,1223.8 307.0,1222.7C299.8,1221.5 293.5,1220.7 290.8,1220.0C288.1,1219.3 290.8,1218.8 290.8,1218.6Z"/>
 <path fill="#6b6b6b" d="M383,1223 C388,1208 402,1203 420,1204.5 L419,1207 C404,1207 393,1213 383,1223 Z"/>
 <path fill="#6b6b6b" d="M475,1237 C480,1226 494,1220 513,1220.5 L512,1223 C497,1223 485,1229 475,1237 Z"/>
 <!-- arrow -->
 <path fill="none" stroke="#e31e24" stroke-width="3.5" stroke-linecap="round" d="M150,1310 L355,1360 L536,1273 M174,1305 L150,1310 L160,1329 M516,1273 L536,1272 L527,1296"/>
</g>
<path fill="#666666" d="M575.5,1232.2 L583.0,1224.7 L591.25,1224.7 L591.25,1266.7 L583.0,1266.7 L583.0,1234.5 L575.5,1239 Z"/><text x="602.68" y="1266.7" font-weight="bold" font-size="61" textLength="31.89" lengthAdjust="spacingAndGlyphs" fill="#666666">3</text><text x="633.67" y="1266.7" font-weight="bold" font-size="61" textLength="32.74" lengthAdjust="spacingAndGlyphs" fill="#666666">0</text><text x="681.61" y="1266.7" font-weight="bold" font-size="61" textLength="31.55" lengthAdjust="spacingAndGlyphs" fill="#666666">x</text><text x="729.43" y="1266.7" font-weight="bold" font-size="61" textLength="31.89" lengthAdjust="spacingAndGlyphs" fill="#666666">3</text><path fill="#666666" d="M766,1232.2 L773.5,1224.7 L781.75,1224.7 L781.75,1266.7 L773.5,1266.7 L773.5,1234.5 L766,1239 Z"/><text x="792.13" y="1266.7" font-weight="bold" font-size="61" textLength="33.33" lengthAdjust="spacingAndGlyphs" fill="#666666">0</text>

<g transform="translate(695.5,293.5) rotate(0)"><text x="-1.18" y="0" font-weight="bold" font-size="53.5" textLength="28.53" lengthAdjust="spacingAndGlyphs" fill="#000">3</text><text x="26.57" y="0" font-weight="bold" font-size="53.5" textLength="29.34" lengthAdjust="spacingAndGlyphs" fill="#000">6</text><text x="55.16" y="0" font-weight="bold" font-size="53.5" textLength="29.46" lengthAdjust="spacingAndGlyphs" fill="#000">2</text><use href="#cm" transform="translate(87.00,0) scale(1.0000,1)"/></g><g transform="translate(1454.0,297.5) rotate(4.5)"><path fill="#000" d="M0.00,-30.5 L7.89,-36.6 L15.49,-36.6 L15.49,0 L7.89,0 L7.89,-29.5 L0.00,-25 Z"/><text x="22.13" y="0" font-weight="bold" font-size="53.5" textLength="27.81" lengthAdjust="spacingAndGlyphs" fill="#000">8</text><text x="50.17" y="0" font-weight="bold" font-size="53.5" textLength="27.62" lengthAdjust="spacingAndGlyphs" fill="#000">3</text><use href="#cm" transform="translate(80.00,0) scale(1.0000,1)"/></g><g transform="translate(525.5,459.5) rotate(-3)"><text x="-2.32" y="0" font-weight="bold" font-size="53.5" textLength="30.00" lengthAdjust="spacingAndGlyphs" fill="#000">7</text><text x="26.18" y="0" font-weight="bold" font-size="53.5" textLength="29.60" lengthAdjust="spacingAndGlyphs" fill="#000">0</text><use href="#cm" transform="translate(58.40,0) scale(1.0000,1)"/></g><g transform="translate(320.6,504.0) rotate(16)"><path fill="#000" d="M0.00,-30.5 L8.72,-36.6 L16.32,-36.6 L16.32,0 L8.72,0 L8.72,-29.5 L0.00,-25 Z"/><text x="24.25" y="0" font-weight="bold" font-size="53.5" textLength="27.01" lengthAdjust="spacingAndGlyphs" fill="#000">4</text><use href="#cm" transform="translate(55.70,0) scale(0.9733,1)"/></g><g transform="translate(849.1,430.8) rotate(85.6)"><text x="-0.73" y="0" font-weight="bold" font-size="53.5" textLength="26.67" lengthAdjust="spacingAndGlyphs" fill="#000">4</text><text x="26.57" y="0" font-weight="bold" font-size="53.5" textLength="30.04" lengthAdjust="spacingAndGlyphs" fill="#000">0</text><use href="#cm" transform="translate(58.70,0) scale(1.0147,1)"/></g><g transform="translate(903.3,596.6) rotate(17)"><text x="-1.82" y="0" font-weight="bold" font-size="53.5" textLength="27.71" lengthAdjust="spacingAndGlyphs" fill="#000">6</text><text x="25.09" y="0" font-weight="bold" font-size="53.5" textLength="27.71" lengthAdjust="spacingAndGlyphs" fill="#000">6</text><use href="#cm" transform="translate(58.50,0) scale(0.9520,1)"/></g><g transform="translate(1128.1,634.6) rotate(-12.2)"><path fill="#000" d="M0.00,-30.5 L8.54,-36.6 L16.14,-36.6 L16.14,0 L8.54,0 L8.54,-29.5 L0.00,-25 Z"/><text x="23.13" y="0" font-weight="bold" font-size="53.5" textLength="28.76" lengthAdjust="spacingAndGlyphs" fill="#000">5</text><text x="51.33" y="0" font-weight="bold" font-size="53.5" textLength="30.09" lengthAdjust="spacingAndGlyphs" fill="#000">0</text><use href="#cm" transform="translate(83.90,0) scale(1.0000,1)"/></g><g transform="translate(1448.5,556.9) rotate(9)"><path fill="#000" d="M0.00,-30.5 L8.64,-36.6 L16.24,-36.6 L16.24,0 L8.64,0 L8.64,-29.5 L0.00,-25 Z"/><text x="24.14" y="0" font-weight="bold" font-size="53.5" textLength="26.88" lengthAdjust="spacingAndGlyphs" fill="#000">4</text><text x="51.44" y="0" font-weight="bold" font-size="53.5" textLength="30.69" lengthAdjust="spacingAndGlyphs" fill="#000">7</text><use href="#cm" transform="translate(84.50,0) scale(0.9920,1)"/></g><g transform="translate(1696.8,603.8) rotate(-18.2)"><text x="-1.75" y="0" font-weight="bold" font-size="53.5" textLength="28.03" lengthAdjust="spacingAndGlyphs" fill="#000">9</text><text x="25.26" y="0" font-weight="bold" font-size="53.5" textLength="28.55" lengthAdjust="spacingAndGlyphs" fill="#000">0</text><use href="#cm" transform="translate(56.50,0) scale(1.0000,1)"/></g><g transform="translate(323.2,682.7) rotate(16.7)"><text x="-1.71" y="0" font-weight="bold" font-size="53.5" textLength="27.38" lengthAdjust="spacingAndGlyphs" fill="#000">9</text><text x="25.98" y="0" font-weight="bold" font-size="53.5" textLength="24.76" lengthAdjust="spacingAndGlyphs" fill="#000">4</text><use href="#cm" transform="translate(57.20,0) scale(0.9707,1)"/></g><g transform="translate(530.8,701.5) rotate(-5.5)"><text x="-1.12" y="0" font-weight="bold" font-size="53.5" textLength="27.10" lengthAdjust="spacingAndGlyphs" fill="#000">3</text><text x="25.58" y="0" font-weight="bold" font-size="53.5" textLength="27.08" lengthAdjust="spacingAndGlyphs" fill="#000">5</text><use href="#cm" transform="translate(57.20,0) scale(1.0000,1)"/></g><g transform="translate(518.3,862.8) rotate(-94)"><text x="-1.49" y="0" font-weight="bold" font-size="53.5" textLength="26.97" lengthAdjust="spacingAndGlyphs" fill="#000">5</text><text x="24.76" y="0" font-weight="bold" font-size="53.5" textLength="28.60" lengthAdjust="spacingAndGlyphs" fill="#000">7</text><use href="#cm" transform="translate(58.40,0) scale(0.9880,1)"/></g><g transform="translate(542.2,876.9) rotate(-8.2)"><path fill="#000" d="M0.00,-30.5 L8.34,-36.6 L15.94,-36.6 L15.94,0 L8.34,0 L8.34,-29.5 L0.00,-25 Z"/><text x="22.48" y="0" font-weight="bold" font-size="53.5" textLength="29.22" lengthAdjust="spacingAndGlyphs" fill="#000">6</text><use href="#cm" transform="translate(55.80,0) scale(0.9960,1)"/></g><g transform="translate(1024.2,995.4) rotate(-90)"><text x="-0.72" y="0" font-weight="bold" font-size="53.5" textLength="26.38" lengthAdjust="spacingAndGlyphs" fill="#000">4</text><text x="26.82" y="0" font-weight="bold" font-size="53.5" textLength="28.40" lengthAdjust="spacingAndGlyphs" fill="#000">5</text><use href="#cm" transform="translate(60.20,0) scale(0.9893,1)"/></g><g transform="translate(1241.6,896.7) rotate(-91.5)"><text x="-1.81" y="0" font-weight="bold" font-size="53.5" textLength="29.08" lengthAdjust="spacingAndGlyphs" fill="#000">2</text><text x="25.83" y="0" font-weight="bold" font-size="53.5" textLength="29.83" lengthAdjust="spacingAndGlyphs" fill="#000">7</text><use href="#cm" transform="translate(58.60,0) scale(1.0013,1)"/></g><g transform="translate(1705.1,790.8) rotate(90)"><text x="-1.42" y="0" font-weight="bold" font-size="53.5" textLength="25.60" lengthAdjust="spacingAndGlyphs" fill="#000">5</text><use href="#cm" transform="translate(29.30,0) scale(0.9960,1)"/></g><g transform="translate(117.1,692.0) rotate(-90)"><text x="-1.62" y="0" font-weight="bold" font-size="53.5" textLength="28.36" lengthAdjust="spacingAndGlyphs" fill="#000">8</text><text x="26.57" y="0" font-weight="bold" font-size="53.5" textLength="28.13" lengthAdjust="spacingAndGlyphs" fill="#000">5</text><use href="#cm" transform="translate(58.50,0) scale(1.0067,1)"/></g><g transform="translate(184.0,728.4) rotate(-91.4)"><text x="-2.25" y="0" font-weight="bold" font-size="53.5" textLength="29.10" lengthAdjust="spacingAndGlyphs" fill="#000">7</text><text x="25.68" y="0" font-weight="bold" font-size="53.5" textLength="28.37" lengthAdjust="spacingAndGlyphs" fill="#000">2</text><use href="#cm" transform="translate(57.20,0) scale(0.9973,1)"/></g>
</svg></body></html>
